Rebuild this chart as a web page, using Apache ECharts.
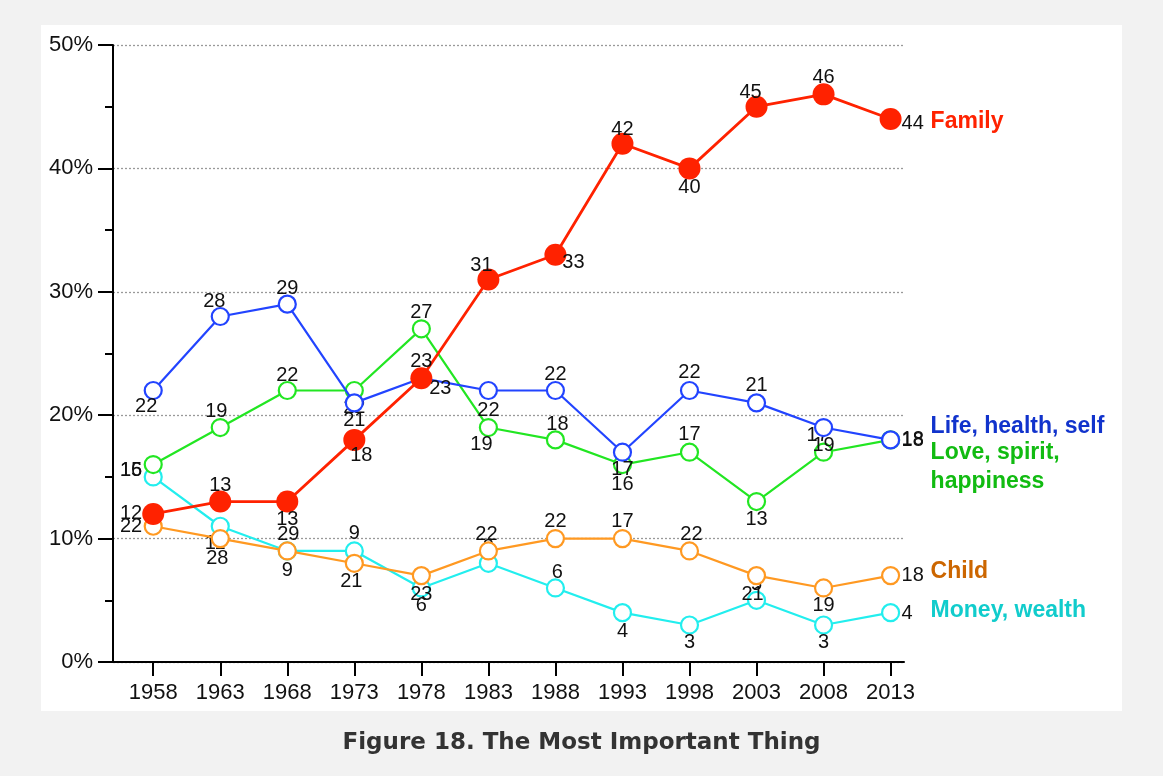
<!DOCTYPE html>
<html>
<head>
<meta charset="utf-8">
<script src="https://cdn.jsdelivr.net/npm/echarts@6/dist/echarts.min.js"></script>
<style>
html,body{margin:0;padding:0;background:#f2f2f2;}
#chart{width:1163px;height:776px;}
</style>
</head>
<body>
<div id="chart"></div>
<script>
// ---- data ----
const years = [1958, 1963, 1968, 1973, 1978, 1983, 1988, 1993, 1998, 2003, 2008, 2013];
const family = [12, 13, 13, 18, 23, 31, 33, 42, 40, 45, 46, 44];
const lifeHealthSelf = [22, 28, 29, 21, 23, 22, 22, 17, 22, 21, 19, 18];
const loveSpiritHappiness = [16, 19, 22, 22, 27, 19, 18, 16, 17, 13, 17, 18];
const child = [11, 10, 9, 8, 7, 9, 10, 10, 9, 7, 6, 7];
const moneyWealth = [15, 11, 9, 9, 6, 8, 6, 4, 3, 5, 3, 4];
// numbers printed next to the Child markers in the reference figure
const childLabelText = [22, 28, 29, 21, 23, 22, 22, 17, 22, 21, 19, 18];

// ---- label placement (style only): [mode, dx, dy] ----
const placeFamily = [['l',-11,0],['c',0,-16],['c',0,18],['c',7,16],['c',0,-17],['c',-7,-14],['c',18,8],['c',0,-14],['c',0,19],['c',-6,-14],['c',0,-17],['r',11,4]];
const placeLife = [['c',-7,16],['c',-6,-15],['c',0,-16],['c',0,18],['c',19,10],['c',0,20],['c',0,-16],['c',0,17],['c',0,-18],['c',0,-17],['c',0,18],['r',11,0]];
const placeLove = [['l',-11,6],['c',-4,-16],['c',0,-15],['c',0,17],['c',0,-16],['c',-7,17],['c',2,-15],['c',0,20],['c',0,-18],['c',0,18],['c',-6,-17],['r',11,1]];
const placeChild = [['l',-11,0],['c',-3,20],['c',1,-16],['c',-3,18],['c',0,19],['c',-2,-16],['c',0,-17],['c',0,-17],['c',2,-16],['c',-4,19],['c',0,18],['r',11,0]];
const placeMoney = [['l',-11,-6],['c',-5,17],['c',0,20],['c',0,-17],['c',0,18],['c',0,-16],['c',2,-15],['c',0,19],['c',0,18],['c',0,-16],['c',0,18],['r',11,1]];

const FONT = '"Liberation Sans", Arial, Helvetica, sans-serif';

function labelFor(p) {
  const align = p[0] === 'l' ? 'right' : (p[0] === 'r' ? 'left' : 'center');
  return {
    show: true, position: 'inside', align: align, verticalAlign: 'middle',
    offset: [p[1], p[2]], color: '#111', fontSize: 20, fontFamily: FONT,
    textBorderWidth: 0
  };
}

function makeSeries(cfg) {
  const data = years.map((y, i) => ({
    value: [y, cfg.values[i]],
    label: Object.assign(labelFor(cfg.place[i]), {
      formatter: String(cfg.labels ? cfg.labels[i] : cfg.values[i])
    })
  }));
  const last = cfg.values.length - 1;
  return {
    name: cfg.name,
    type: 'line',
    z: cfg.z,
    data: data,
    symbol: 'circle',
    symbolSize: cfg.filled ? 22 : 17,
    showAllSymbol: true,
    lineStyle: { color: cfg.color, width: cfg.filled ? 2.8 : 2.2 },
    itemStyle: cfg.filled
      ? { color: cfg.color, borderColor: cfg.color, borderWidth: 0 }
      : { color: '#ffffff', borderColor: cfg.color, borderWidth: 2.2 },
    emphasis: { disabled: true },
    animation: false,
    markPoint: {
      silent: true,
      symbol: 'circle',
      symbolSize: 1,
      itemStyle: { color: 'rgba(0,0,0,0)' },
      label: {
        show: true, position: 'inside', align: 'left', verticalAlign: 'middle',
        offset: cfg.nameOffset, color: cfg.nameColor, fontSize: 23,
        fontWeight: 'bold', fontFamily: FONT, lineHeight: 29,
        formatter: cfg.display
      },
      data: [{ coord: [years[last], cfg.values[last]] }]
    }
  };
}

const chart = echarts.init(document.getElementById('chart'), null, { renderer: 'canvas' });
chart.setOption({
  backgroundColor: '#f2f2f2',
  animation: false,
  graphic: [{
    type: 'rect', z: -10, silent: true,
    shape: { x: 41, y: 25, width: 1081, height: 686 },
    style: { fill: '#ffffff' }
  }],
  title: {
    text: 'Figure 18. The Most Important Thing',
    left: 'center', top: 727,
    textStyle: { fontSize: 23, fontWeight: 'bold', color: '#333333', fontFamily: '"DejaVu Sans", sans-serif' }
  },
  grid: { left: 113, right: 259, top: 45, bottom: 114, containLabel: false },
  xAxis: {
    type: 'value', min: 1955, max: 2014,
    axisLine: { show: true, lineStyle: { color: '#000', width: 2 } },
    axisTick: { show: true, customValues: years, length: 14, lineStyle: { color: '#000', width: 2 } },
    axisLabel: { customValues: years, formatter: v => String(v), margin: 20, color: '#111', fontSize: 22, fontFamily: FONT },
    splitLine: { show: false }
  },
  yAxis: {
    type: 'value', min: 0, max: 50, interval: 10,
    axisLine: { show: true, lineStyle: { color: '#000', width: 2 } },
    axisTick: { show: true, length: 15, lineStyle: { color: '#000', width: 2 } },
    minorTick: { show: true, splitNumber: 2, length: 8, lineStyle: { color: '#000', width: 2 } },
    axisLabel: { formatter: '{value}%', margin: 20, color: '#111', fontSize: 22, fontFamily: FONT },
    splitLine: { show: true, lineStyle: { color: '#999', width: 1.3, type: [2, 2] } }
  },
  series: [
    makeSeries({ name: 'Money, wealth', display: 'Money, wealth', values: moneyWealth, place: placeMoney, color: '#22eeee', nameColor: '#11cccc', z: 2, nameOffset: [40, -2] }),
    makeSeries({ name: 'Child', display: 'Child', values: child, labels: childLabelText, place: placeChild, color: '#ff9922', nameColor: '#cc6600', z: 3, nameOffset: [40, -4] }),
    makeSeries({ name: 'Love, spirit, happiness', display: 'Love, spirit,\nhappiness', values: loveSpiritHappiness, place: placeLove, color: '#22e622', nameColor: '#11bb11', z: 4, nameOffset: [40, 27] }),
    makeSeries({ name: 'Life, health, self', display: 'Life, health, self', values: lifeHealthSelf, place: placeLife, color: '#2244ff', nameColor: '#1133cc', z: 5, nameOffset: [40, -13] }),
    makeSeries({ name: 'Family', display: 'Family', values: family, place: placeFamily, color: '#ff2200', nameColor: '#ff2200', z: 6, filled: true, nameOffset: [40, 3] })
  ]
});
</script>
</body>
</html>
